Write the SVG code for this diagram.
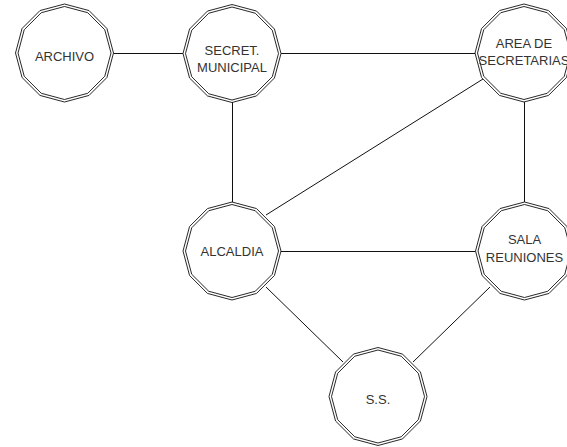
<svg xmlns="http://www.w3.org/2000/svg" xmlns:xlink="http://www.w3.org/1999/xlink" width="567" height="447" viewBox="0 0 567 447">
<style>
.bg{fill:#fff}
.poly{fill:#fff;stroke:#111;stroke-width:0.9}
.inner{fill:none;stroke:#111;stroke-width:0.9}
.edge{stroke:#111;stroke-width:1;fill:none}
.lbl{font-family:"Liberation Sans",Arial,sans-serif;font-size:13px;fill:#333;text-anchor:middle}
</style>
<defs>
<g id="dodec">
<polygon class="poly" points="0,-49 24.5,-42.44 42.44,-24.5 49,0 42.44,24.5 24.5,42.44 0,49 -24.5,42.44 -42.44,24.5 -49,0 -42.44,-24.5 -24.5,-42.44"/>
<polygon class="inner" points="0,-46.5 23.25,-40.27 40.27,-23.25 46.5,0 40.27,23.25 23.25,40.27 0,46.5 -23.25,40.27 -40.27,23.25 -46.5,0 -40.27,-23.25 -23.25,-40.27"/>
</g>
</defs>
<rect class="bg" x="0" y="0" width="567" height="447"/>
<g id="connectors">
<line class="edge" x1="113.5" y1="53.5" x2="183" y2="53.5"/>
<line class="edge" x1="281" y1="53.5" x2="475" y2="53.5"/>
<line class="edge" x1="232.5" y1="102" x2="232.5" y2="202"/>
<line class="edge" x1="524.5" y1="102" x2="524.5" y2="202"/>
<line class="edge" x1="483" y1="79" x2="266" y2="215"/>
<line class="edge" x1="281" y1="251.5" x2="475" y2="251.5"/>
<line class="edge" x1="266" y1="287" x2="343" y2="362"/>
<line class="edge" x1="490" y1="287" x2="413" y2="362"/>
</g>
<g id="archivo">
<use xlink:href="#dodec" x="64.5" y="53"/>
<text class="lbl" x="64.5" y="61">ARCHIVO</text>
</g>
<g id="secret-municipal">
<use xlink:href="#dodec" x="232" y="53.5"/>
<text class="lbl" x="232" y="55">SECRET.</text>
<text class="lbl" x="232" y="72">MUNICIPAL</text>
</g>
<g id="area-secretarias">
<use xlink:href="#dodec" x="524" y="53"/>
<text class="lbl" x="524" y="47.5">AREA DE</text>
<text class="lbl" x="524" y="65">SECRETARIAS</text>
</g>
<g id="alcaldia">
<use xlink:href="#dodec" x="232" y="251"/>
<text class="lbl" x="232" y="256">ALCALDIA</text>
</g>
<g id="sala-reuniones">
<use xlink:href="#dodec" x="524.5" y="251"/>
<text class="lbl" x="524.5" y="244">SALA</text>
<text class="lbl" x="524.5" y="262">REUNIONES</text>
</g>
<g id="ss">
<use xlink:href="#dodec" x="378" y="396.5"/>
<text class="lbl" x="378" y="404">S.S.</text>
</g>
</svg>
